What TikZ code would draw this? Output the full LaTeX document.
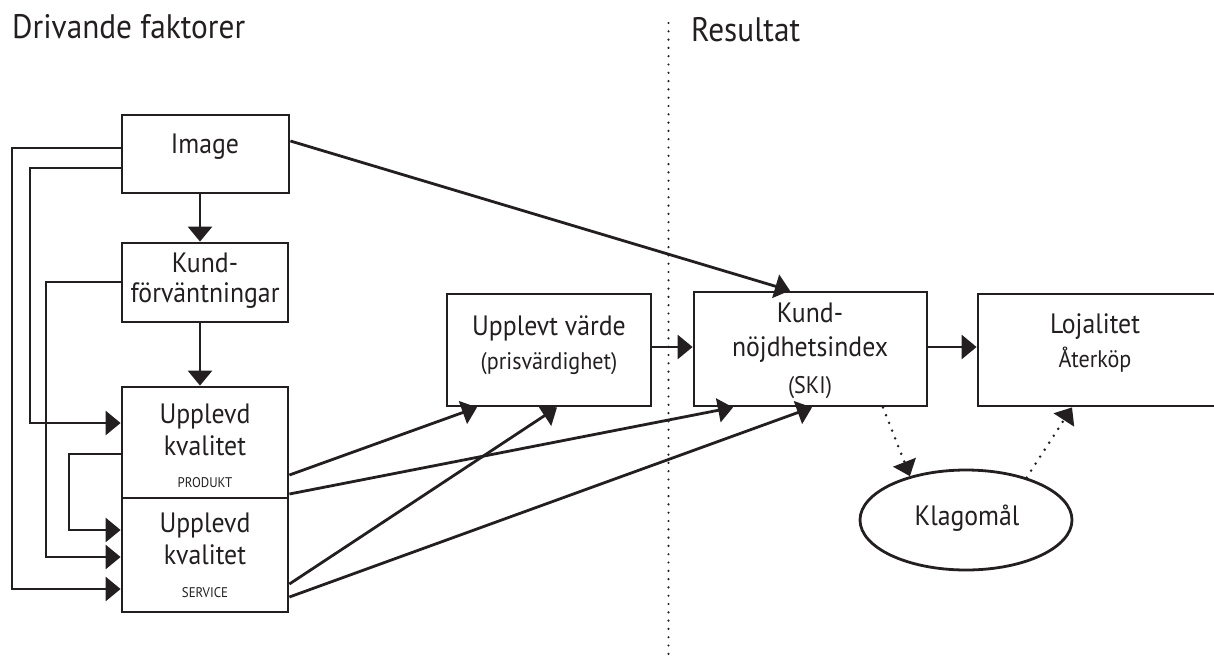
\documentclass[tikz,border=0pt]{standalone}
\usepackage{fontspec}
\setmainfont{PT Sans}[FakeStretch=0.92]
\usetikzlibrary{arrows.meta,shapes.geometric}
\definecolor{ink}{HTML}{231F20}
\begin{document}
\begin{tikzpicture}[x=1pt,y=-1pt,
  box/.style={draw=ink, line width=2.8pt, rectangle, inner sep=0pt},
  oval/.style={draw=ink, line width=2.8pt, ellipse, inner sep=0pt},
  arr/.style={draw=ink, line width=2.8pt, -{Triangle[length=15pt,width=24pt]}},
  dotarr/.style={arr, line cap=round, dash pattern=on 0pt off 8.3pt},
  sep/.style={draw=ink, line width=2.4pt, line cap=round, dash pattern=on 0pt off 8.3pt},
  title/.style={text=ink, inner sep=0pt, anchor=base west, font=\fontsize{34}{38}\selectfont},
  lbl/.style={text=ink, inner sep=0pt, anchor=base, font=\fontsize{28}{31}\selectfont},
  sub/.style={text=ink, inner sep=0pt, anchor=base, font=\fontsize{24}{27}\selectfont},
  tiny/.style={text=ink, inner sep=0pt, anchor=base, font=\fontsize{14}{16}\selectfont}]
\useasboundingbox (0,0) rectangle (1214,670);

% titles
\node[title] (t1) at (12,38) {Drivande faktorer};
\node[title] (t2) at (691,41) {Resultat};

% separator
\coordinate (s1) at (668.5,23);
\coordinate (s2) at (668.5,662);
\draw[sep] (s1) -- (s2);

% boxes
\node[box, minimum width=167, minimum height=78]  (img) at (205.5,154) {};
\node[box, minimum width=166, minimum height=79]  (kf)  at (205,282.5) {};
\node[box, minimum width=166, minimum height=111] (uqp) at (205,442.5) {};
\node[box, minimum width=166, minimum height=114] (uqs) at (205,555) {};
\node[box, minimum width=204, minimum height=112] (uv)  at (549,350) {};
\node[box, minimum width=233, minimum height=114] (ski) at (810.5,349) {};
\node[box, minimum width=244, minimum height=112] (loj) at (1100,350) {};
\node[oval, minimum width=212, minimum height=100] (kla) at (966,520) {};

% labels
\node[lbl] (limg) at (205,153) {Image};
\node[lbl] (lkf1) at (205,272) {Kund-};
\node[lbl] (lkf2) at (205,302) {förväntningar};
\node[lbl] (lup1) at (205,423) {Upplevd};
\node[lbl] (lup2) at (205,455) {kvalitet};
\node[tiny] (lup3) at (205,487) {PRODUKT};
\node[lbl] (lus1) at (205,532) {Upplevd};
\node[lbl] (lus2) at (205,564) {kvalitet};
\node[tiny] (lus3) at (205,597) {SERVICE};
\node[lbl] (luv1) at (549,335) {Upplevt värde};
\node[sub] (luv2) at (549,369) {(prisvärdighet)};
\node[lbl] (lsk1) at (810,322) {Kund-};
\node[lbl] (lsk2) at (810,356) {nöjdhetsindex};
\node[sub] (lsk3) at (810,393) {(SKI)};
\node[lbl] (llo1) at (1095,333) {Lojalitet};
\node[sub] (llo2) at (1095,367) {Återköp};
\node[lbl] (lkla) at (967,525) {Klagomål};

% left feedback connectors
\draw[arr] (img.west |- 0,148) -- (12,148) |- (uqs.west |- 0,589);
\draw[arr] (img.west |- 0,168) -- (30,168) |- (uqp.west |- 0,423);
\draw[arr] (kf.west |- 0,282) -- (46,282) |- (uqs.west |- 0,557);
\draw[arr] (uqp.west |- 0,454) -- (69,454) |- (uqs.west |- 0,530);

% vertical connectors
\draw[arr] (img.south -| 200,0) -- (kf.north -| 200,0);
\draw[arr] (kf.south -| 200,0) -- (uqp.north -| 200,0);

% to value and SKI
\draw[arr] (uqp.east |- 0,475) -- (uv.south -| 477,0);
\draw[arr] (uqp.east |- 0,494) -- (ski.south -| 733,0);
\draw[arr] (uqs.east |- 0,584) -- (uv.south -| 557,0);
\draw[arr] (uqs.east |- 0,597) -- (ski.south -| 812,0);
\draw[arr] (img.east |- 0,141) -- (ski.north -| 790,0);
\draw[arr] (uv.east |- 0,347) -- (ski.west |- 0,347);
\draw[arr] (ski.east |- 0,347) -- (loj.west |- 0,347);

% complaints
\draw[dotarr] (ski.south -| 883,0) -- (kla.142);
\draw[dotarr] (kla.35) -- (loj.south -| 1072,0);
\end{tikzpicture}
\end{document}
